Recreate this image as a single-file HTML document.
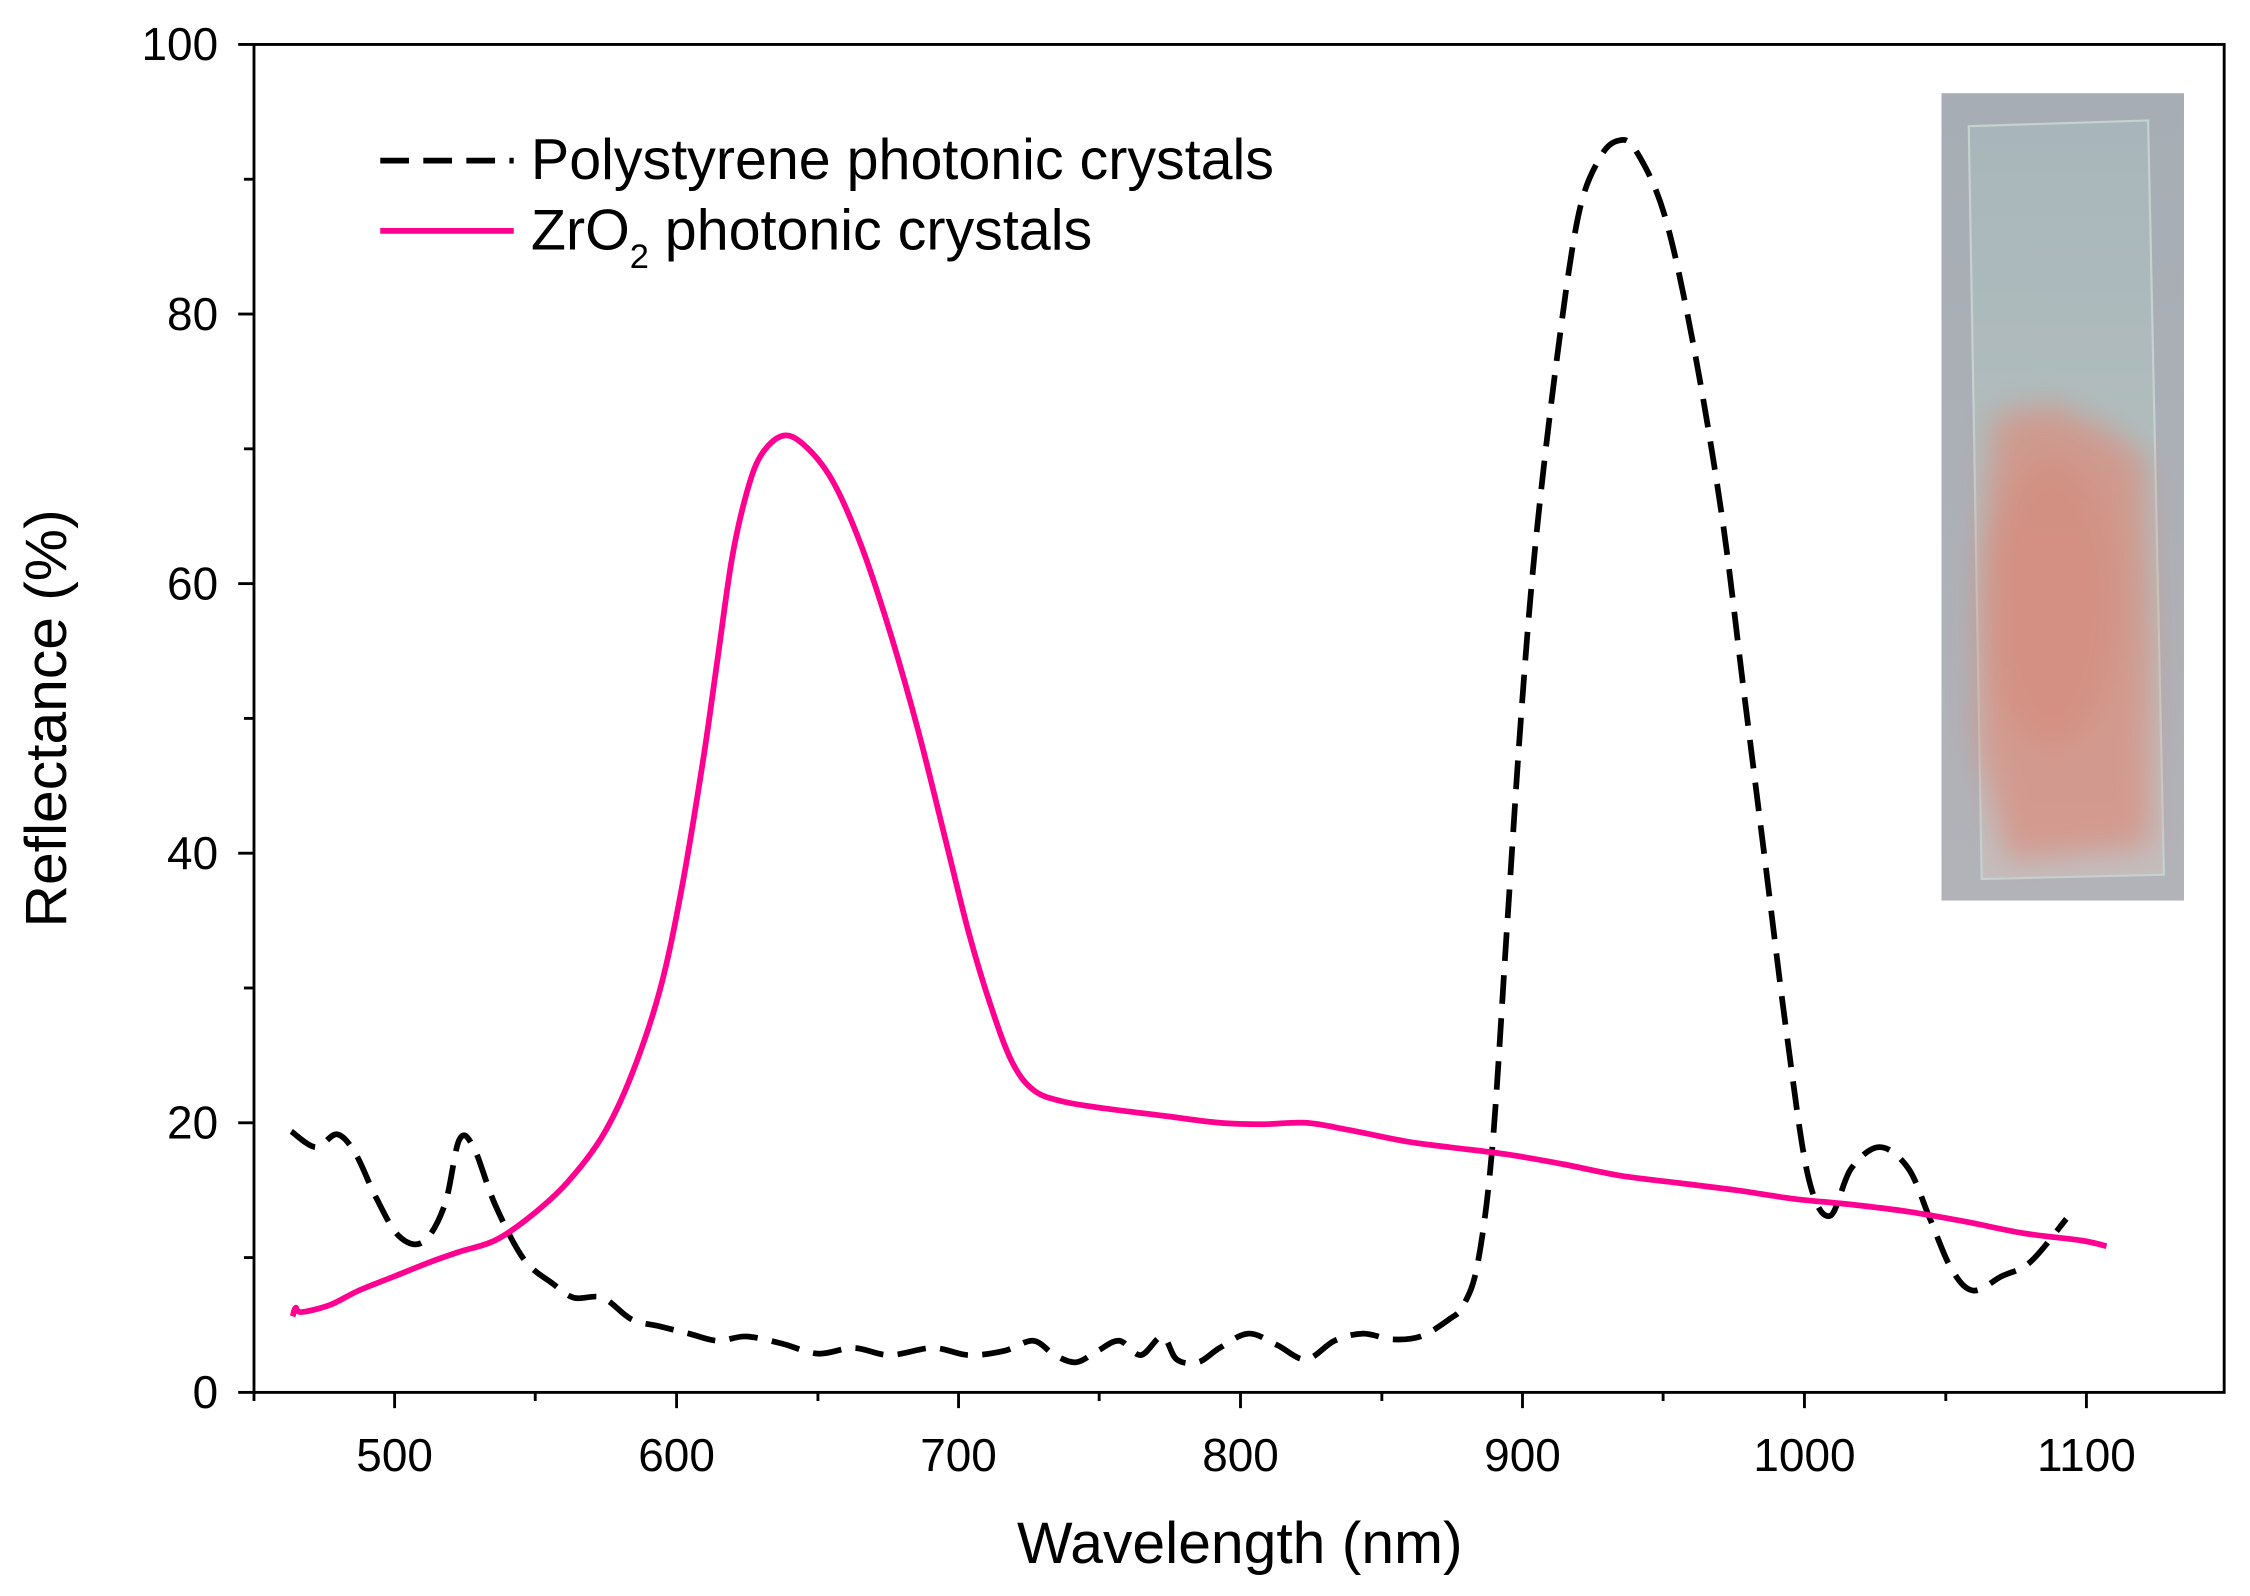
<!DOCTYPE html>
<html><head><meta charset="utf-8"><style>
html,body{margin:0;padding:0;background:#fff;}
svg{display:block;}
text{font-family:"Liberation Sans",Arial,sans-serif;fill:#000;}
</style></head><body>
<svg width="2250" height="1596" viewBox="0 0 1568 1113" preserveAspectRatio="none" xmlns="http://www.w3.org/2000/svg">
<defs>
<linearGradient id="bg" x1="0" y1="0" x2="0" y2="1">
<stop offset="0" stop-color="#a6adb4"/><stop offset="1" stop-color="#b2b3b9"/>
</linearGradient>
<linearGradient id="gl" x1="0" y1="0" x2="0" y2="1">
<stop offset="0" stop-color="#a8b6bb"/><stop offset="0.4" stop-color="#b0bcbc"/><stop offset="1" stop-color="#c4bdbd"/>
</linearGradient>
<filter id="bl" x="-30%" y="-30%" width="160%" height="160%"><feGaussianBlur stdDeviation="10"/></filter>
</defs>
<!-- inset photo -->
<rect x="1353" y="65" width="169" height="563" fill="url(#bg)"/>
<polygon points="1372,88 1497,84 1508,610 1381,613" fill="url(#gl)" stroke="#c6d2d0" stroke-width="1.5"/>
<g filter="url(#bl)" opacity="0.75">
<polygon points="1390,290 1430,282 1470,300 1495,320 1500,440 1498,590 1400,600 1378,520 1380,390" fill="#d98f80"/>
<ellipse cx="1430" cy="420" rx="45" ry="100" fill="#e07a66" opacity="0.6"/>
</g>
<!-- axes -->
<rect x="177" y="31" width="1373" height="940" fill="none" stroke="#000" stroke-width="2"/>
<g stroke="#000" stroke-width="2">
<line x1="275" y1="971" x2="275" y2="982"/><line x1="471.5" y1="971" x2="471.5" y2="982"/><line x1="668" y1="971" x2="668" y2="982"/><line x1="864.5" y1="971" x2="864.5" y2="982"/><line x1="1061" y1="971" x2="1061" y2="982"/><line x1="1257.5" y1="971" x2="1257.5" y2="982"/><line x1="1454" y1="971" x2="1454" y2="982"/>
<line x1="177" y1="971" x2="177" y2="977"/><line x1="373" y1="971" x2="373" y2="977"/><line x1="570" y1="971" x2="570" y2="977"/><line x1="766" y1="971" x2="766" y2="977"/><line x1="963" y1="971" x2="963" y2="977"/><line x1="1159" y1="971" x2="1159" y2="977"/><line x1="1356" y1="971" x2="1356" y2="977"/>
<line x1="166" y1="971" x2="177" y2="971"/><line x1="166" y1="783" x2="177" y2="783"/><line x1="166" y1="595" x2="177" y2="595"/><line x1="166" y1="407" x2="177" y2="407"/><line x1="166" y1="219" x2="177" y2="219"/><line x1="166" y1="31" x2="177" y2="31"/>
<line x1="170" y1="877" x2="177" y2="877"/><line x1="170" y1="689" x2="177" y2="689"/><line x1="170" y1="501" x2="177" y2="501"/><line x1="170" y1="313" x2="177" y2="313"/><line x1="170" y1="125" x2="177" y2="125"/>
</g>
<g font-size="32" text-anchor="middle">
<text x="275" y="1026">500</text><text x="471.5" y="1026">600</text><text x="668" y="1026">700</text><text x="864.5" y="1026">800</text><text x="1061" y="1026">900</text><text x="1257.5" y="1026">1000</text><text x="1454" y="1026">1100</text>
</g>
<g font-size="32" text-anchor="end">
<text x="152" y="982">0</text><text x="152" y="794">20</text><text x="152" y="606">40</text><text x="152" y="418">60</text><text x="152" y="230">80</text><text x="152" y="42">100</text>
</g>
<text x="864" y="1090" font-size="41" text-anchor="middle">Wavelength (nm)</text>
<text transform="translate(46,501) rotate(-90)" font-size="41" text-anchor="middle">Reflectance (%)</text>
<!-- legend -->
<line x1="265" y1="112" x2="358" y2="112" stroke="#000" stroke-width="4" stroke-dasharray="20,10"/>
<text x="370" y="125" font-size="40">Polystyrene photonic crystals</text>
<line x1="265" y1="161" x2="358" y2="161" stroke="#ff0090" stroke-width="4"/>
<text x="370" y="174" font-size="40">ZrO<tspan font-size="24" dy="13">2</tspan><tspan dy="-13"> photonic crystals</tspan></text>
<!-- series -->
<path id="ps" fill="none" stroke="#000" stroke-width="4" stroke-dasharray="20,10" stroke-linejoin="round" data-p="203,789 220,800 235,791 248,805 262,835 278,862 295,866 310,840 320,795 330,800 345,840 365,878 385,895 400,905 420,905 440,920 460,925 480,930 500,935 520,932 545,937 570,944 595,940 620,945 650,940 675,945 700,942 720,935 735,945 750,950 765,942 780,935 795,945 810,932 820,948 835,950 850,940 870,930 890,938 910,948 930,935 950,930 970,934 990,932 1010,920 1020,910 1030,880 1040,800 1050,650 1060,500 1070,380 1085,250 1100,150 1115,110 1128,98 1140,105 1160,150 1180,240 1200,360 1215,480 1230,600 1245,720 1260,820 1275,848 1290,815 1310,800 1330,815 1345,850 1360,885 1375,900 1395,890 1415,880 1440,850"/>
<path id="zr" fill="none" stroke="#ff0090" stroke-width="4" stroke-linejoin="round" data-p="204,918 206,912 210,915 230,910 250,900 275,890 300,880 320,873 345,865 370,848 395,825 420,792 440,750 460,690 475,620 490,530 500,460 510,390 520,345 530,318 545,304 560,310 580,335 600,380 620,440 640,510 660,590 675,650 690,700 705,740 720,760 740,768 770,773 810,778 850,783 880,784 910,783 940,788 980,796 1010,800 1050,805 1090,812 1130,820 1170,825 1210,830 1250,836 1290,840 1330,845 1370,852 1410,860 1450,865 1468,869"/>
</svg>
<script>
document.querySelectorAll('path[data-p]').forEach(function(el){
 var p=el.getAttribute('data-p').trim().split(/\s+/).map(function(s){return s.split(',').map(Number);});
 var d='M'+p[0][0]+','+p[0][1];
 for(var i=0;i<p.length-1;i++){
  var p0=p[i-1]||p[i],p1=p[i],p2=p[i+1],p3=p[i+2]||p2;
  var c1x=p1[0]+(p2[0]-p0[0])/6,c1y=p1[1]+(p2[1]-p0[1])/6;
  var c2x=p2[0]-(p3[0]-p1[0])/6,c2y=p2[1]-(p3[1]-p1[1])/6;
  d+=' C'+c1x+','+c1y+' '+c2x+','+c2y+' '+p2[0]+','+p2[1];
 }
 el.setAttribute('d',d);
});
</script>
</body></html>
